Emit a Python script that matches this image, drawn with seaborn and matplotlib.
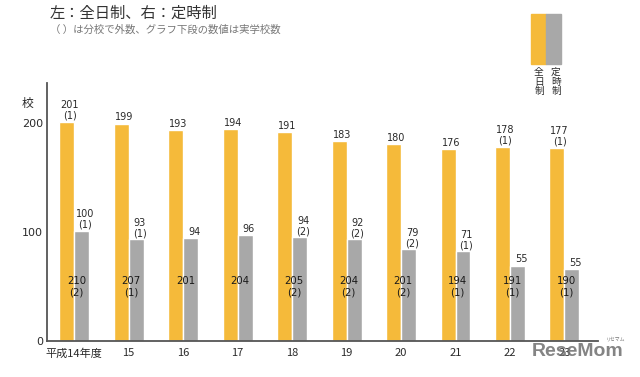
import matplotlib
matplotlib.use("Agg")
import matplotlib.pyplot as plt
import seaborn as sns
import pandas as pd

sns.set_theme(style="white")
plt.rcParams['font.family'] = ['Noto Sans CJK JP', 'DejaVu Sans']

years = ["平成14年度", "15", "16", "17", "18", "19", "20", "21", "22", "23"]
full_time = [201, 199, 193, 194, 191, 183, 180, 176, 178, 177]
part_time = [101, 93, 94, 97, 95, 93, 84, 82, 69, 66]
full_branch = ["(1)", "", "", "", "", "", "", "", "(1)", "(1)"]
part_label = [100, 93, 94, 96, 94, 92, 79, 71, 55, 55]
part_branch = ["(1)", "(1)", "", "", "(2)", "(2)", "(2)", "(1)", "", ""]
actual = [210, 207, 201, 204, 205, 204, 201, 194, 191, 190]
actual_branch = ["(2)", "(1)", "", "", "(2)", "(2)", "(2)", "(1)", "(1)", "(1)"]
yticks = [0, 100, 200]

ORANGE = "#F5BA3A"
GREY = "#A8A8A8"
AXC = "#555555"
TXT = "#2a2a2a"
NUMF = ["DejaVu Sans"]

df = pd.DataFrame({
    "year": years * 2,
    "value": full_time + part_time,
    "type": ["全日制"] * len(years) + ["定時制"] * len(years),
})

fig = plt.figure(figsize=(6.4, 3.77), dpi=100)
ax = fig.add_axes([47 / 640, 36 / 377, (598 - 47) / 640, (341 - 83) / 377])
sns.barplot(data=df, x="year", y="value", hue="type", palette=[ORANGE, GREY],
            width=0.55, saturation=1, legend=False, ax=ax, errorbar=None)

ax.set_xlim(-0.5, 9.616)
ax.set_ylim(0, 236.3)
ax.set_xlabel("")
ax.set_ylabel("")
for s in ["top", "right"]:
    ax.spines[s].set_visible(False)
for s in ["left", "bottom"]:
    ax.spines[s].set_color(AXC)
    ax.spines[s].set_linewidth(1.3)

ax.set_yticks(yticks)
ax.set_yticklabels([str(v) for v in yticks], fontsize=8, color=TXT, family=NUMF)
ax.tick_params(axis="y", direction="in", length=6, width=1.3, color=AXC, pad=3)
ax.set_xticks(range(len(years)))
ax.set_xticklabels(years, fontsize=8, color=TXT)
ax.tick_params(axis="x", which="major", length=0, pad=5)
ax.set_xticks([i + 0.5 for i in range(len(years))], minor=True)
ax.tick_params(axis="x", which="minor", direction="in", length=6, width=1.3, color=AXC)

bw = 0.1375
fs = 7
for i in range(len(years)):
    # full-time labels above orange
    xo = i - bw
    if full_branch[i]:
        ax.annotate(full_branch[i], (xo, full_time[i]), xytext=(2, 4.5),
                    textcoords="offset points", ha="center", va="center",
                    fontsize=fs, color=TXT, family=NUMF)
        ax.annotate(str(full_time[i]), (xo, full_time[i]), xytext=(2, 11.8),
                    textcoords="offset points", ha="center", va="center",
                    fontsize=fs, color=TXT, family=NUMF)
    else:
        ax.annotate(str(full_time[i]), (xo, full_time[i]), xytext=(2, 4.5),
                    textcoords="offset points", ha="center", va="center",
                    fontsize=fs, color=TXT, family=NUMF)
    # part-time labels above grey
    xg = i + bw
    if part_branch[i]:
        ax.annotate(part_branch[i], (xg, part_time[i]), xytext=(2.5, 4.5),
                    textcoords="offset points", ha="center", va="center",
                    fontsize=fs, color=TXT, family=NUMF)
        ax.annotate(str(part_label[i]), (xg, part_time[i]), xytext=(2.5, 12),
                    textcoords="offset points", ha="center", va="center",
                    fontsize=fs, color=TXT, family=NUMF)
    else:
        ax.annotate(str(part_label[i]), (xg, part_time[i]), xytext=(2.5, 4.5),
                    textcoords="offset points", ha="center", va="center",
                    fontsize=fs, color=TXT, family=NUMF)
    # actual school counts inside
    ax.text(i + 0.04, 54.5, str(actual[i]), ha="center", va="center", fontsize=7.3,
            color="#1a1a1a", family=NUMF)
    if actual_branch[i]:
        ax.text(i + 0.04, 44.5, actual_branch[i], ha="center", va="center", fontsize=7.3,
                color="#1a1a1a", family=NUMF)

# unit label
fig.text(27 / 640, 1 - 103 / 377, "校", fontsize=8.5, color=TXT, ha="center", va="center")

# titles
fig.text(50 / 640, 1 - 13 / 377, "左：全日制、右：定時制", fontsize=11, color="#333333",
         ha="left", va="center")
fig.text(50 / 640, 1 - 30 / 377, "（ ）は分校で外数、グラフ下段の数値は実学校数", fontsize=7.5,
         color="#777777", ha="left", va="center")

# legend
fig.patches.append(plt.Rectangle((531 / 640, 1 - 64 / 377), 15 / 640, 50 / 377,
                                 transform=fig.transFigure, color=ORANGE))
fig.patches.append(plt.Rectangle((546 / 640, 1 - 64 / 377), 15 / 640, 50 / 377,
                                 transform=fig.transFigure, color=GREY))
for j, ch in enumerate("全日制"):
    fig.text(539 / 640, 1 - (72 + j * 9.5) / 377, ch, fontsize=7, color=TXT, ha="center", va="center")
for j, ch in enumerate("定時制"):
    fig.text(556 / 640, 1 - (72 + j * 9.5) / 377, ch, fontsize=7, color=TXT, ha="center", va="center")

# watermark
fig.text(532 / 640, 1 - 352 / 377, "ReseMom", fontsize=14, fontweight="bold",
         color="#6f6f6f", alpha=0.85, ha="left", va="center",
         family=["Liberation Sans"])
fig.text(616 / 640, 1 - 339 / 377, "リセマム", fontsize=3.5, color="#777777",
         ha="center", va="center")

fig.savefig("out.png", dpi=100)
